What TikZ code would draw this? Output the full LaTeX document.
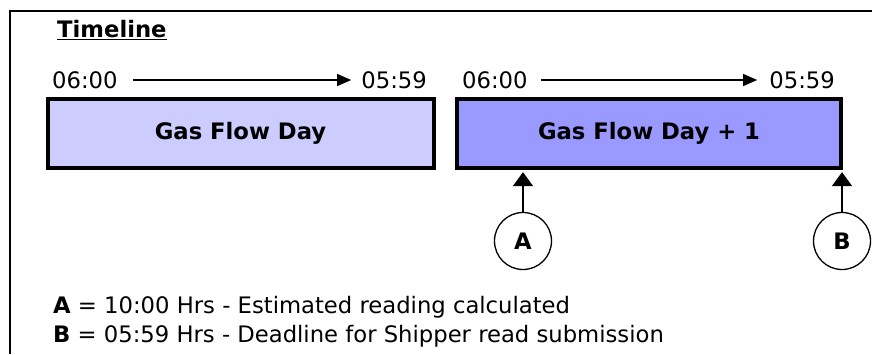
\documentclass[tikz,border=0pt]{standalone}
\usepackage{fontspec}
\setsansfont{DejaVu Sans}
\usepackage{xcolor}
\definecolor{dayone}{RGB}{204,204,255}
\definecolor{daytwo}{RGB}{153,153,255}
\tikzset{every picture/.style={/utils/exec={\sffamily\fontsize{22.7}{27}\selectfont}}}
\usetikzlibrary{calc}
\usetikzlibrary{positioning}
\usetikzlibrary{arrows.meta}

\tikzset{
  daybox/.style={draw, line width=4pt, minimum height=69.5pt, font=\bfseries},
  marker/.style={draw, circle, line width=1.3pt, minimum size=57pt, inner sep=0pt, font=\bfseries},
  hour/.style={inner sep=0pt},
  timeline/.style={line width=1.3pt, -{Triangle[length=14pt,width=12pt]}},
  pointer/.style={line width=1.5pt, -{Triangle[length=14pt,width=20pt]}},
}

\begin{document}
\begin{tikzpicture}[x=1pt, y=-1pt]
  \useasboundingbox (0,0) rectangle (872,354);
  \draw [line width=2.5pt] (10,354) -- (10,11) -- (872,11);

  \node [anchor=base west, inner sep=0pt] (title) at (57,37) {\textbf{\underline{Timeline}}};

  % the two days
  \node [daybox, fill=dayone, minimum width=386pt] (day) at (240.5,133.4) {Gas Flow Day};
  \node [daybox, fill=daytwo, minimum width=384pt] (nextday) at (649,133.4) {Gas Flow Day + 1};

  % hours over each day
  \node [hour, anchor=west] (start) at (52,80) {06:00};
  \node [hour, anchor=east] (stop) at (427,80) {05:59};
  \draw [timeline, shorten <=15pt, shorten >=10pt] (start) -- (stop);

  \node [hour, anchor=west] (nextstart) at (462,80) {06:00};
  \node [hour, anchor=east] (nextstop) at (835,80) {05:59};
  \draw [timeline, shorten <=13pt, shorten >=12pt] (nextstart) -- (nextstop);

  % readings
  \node [marker] (a) at (523,241) {A};
  \node [marker] (b) at (842,241) {B};
  \draw [pointer, shorten >=2pt] (a) -- (a |- nextday.south);
  \draw [pointer, shorten >=2pt] (b) -- (b |- nextday.south);

  \node [anchor=base west, inner sep=0pt] (keya) at (53,313) {\textbf{A} = 10:00 Hrs - Estimated reading calculated};
  \node [anchor=base west, inner sep=0pt] (keyb) at (53,342) {\textbf{B} = 05:59 Hrs - Deadline for Shipper read submission};
\end{tikzpicture}
\end{document}
